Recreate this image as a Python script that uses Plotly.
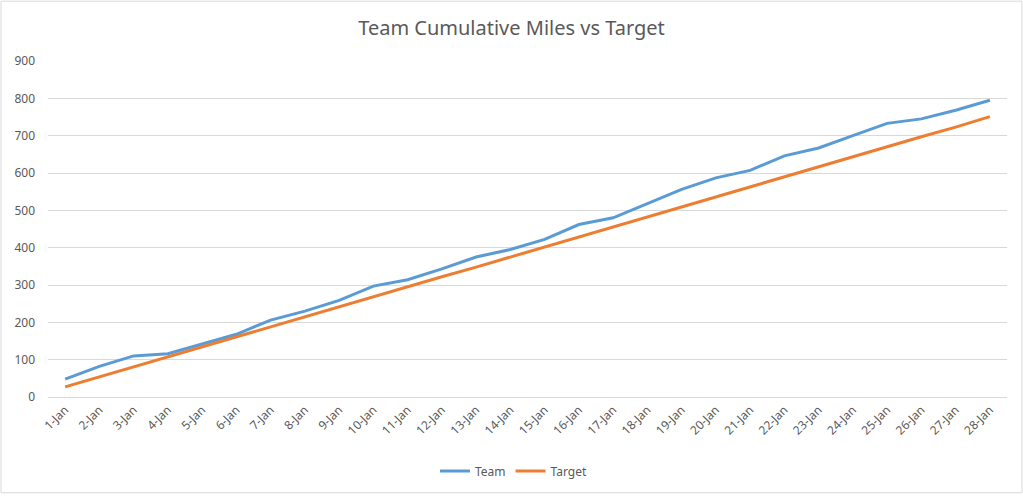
import plotly.graph_objects as go

days = [f"{d}-Jan" for d in range(1, 29)]
team = [48, 82, 110, 116, 142, 168, 206, 230, 259, 297, 314, 343, 375, 395, 422, 462,
        480, 518, 556, 587, 607, 646, 667, 700, 733, 745, 768, 795]
target = [27, 54, 80, 107, 134, 161, 188, 214, 241, 268, 295, 322, 348, 375, 402, 429,
          455, 482, 509, 536, 563, 589, 616, 643, 670, 697, 723, 751]
y_ticks = [0, 100, 200, 300, 400, 500, 600, 700, 800, 900]

W, H = 1023, 496
ML, MR, MT, MB = 48, 16, 61, 98
pw, ph = W - ML - MR, H - MT - MB

fig = go.Figure()
fig.add_trace(go.Scatter(x=days, y=team, mode="lines", name="Team",
                         line=dict(color="#5B9BD5", width=3)))
fig.add_trace(go.Scatter(x=days, y=target, mode="lines", name="Target",
                         line=dict(color="#ED7D31", width=3)))

fig.update_layout(
    width=W, height=H,
    margin=dict(l=ML, r=MR, t=MT, b=MB),
    paper_bgcolor="white", plot_bgcolor="white",
    font=dict(family="Noto Sans", color="#595959", size=12),
    title=dict(text="Team Cumulative Miles vs Target", x=0.5, xanchor="center",
               y=1 - 28 / H, yanchor="middle",
               font=dict(size=20, color="#595959", family="Noto Sans")),
    xaxis=dict(type="category", range=[-0.5, 27.5], tickangle=-45,
               showgrid=False, showline=True, linecolor="#D9D9D9", ticks="",
               tickfont=dict(size=12, color="#595959")),
    yaxis=dict(range=[0, 900], tickvals=y_ticks, showgrid=True, gridcolor="#D9D9D9",
               zeroline=False, showline=False, ticks="", ticklabelstandoff=12,
               tickfont=dict(size=12, color="#595959")),
    legend=dict(orientation="h", x=0.5 - 14 / pw, xanchor="center", y=-(471 - 398) / ph,
                yanchor="middle", font=dict(size=12, color="#595959"),
                itemwidth=30, tracegroupgap=0),
    showlegend=True,
)

fig.add_shape(type="rect", xref="paper", yref="paper",
              x0=(1 - ML) / pw, x1=1 + (MR - 1) / pw,
              y0=-(MB - 2) / ph, y1=1 + (MT - 1) / ph,
              line=dict(color="#D9D9D9", width=1), fillcolor="rgba(0,0,0,0)")

fig.write_html("out.html", config={"displayModeBar": False},
               post_script="document.body.style.margin='0';document.body.style.overflow='hidden';")
